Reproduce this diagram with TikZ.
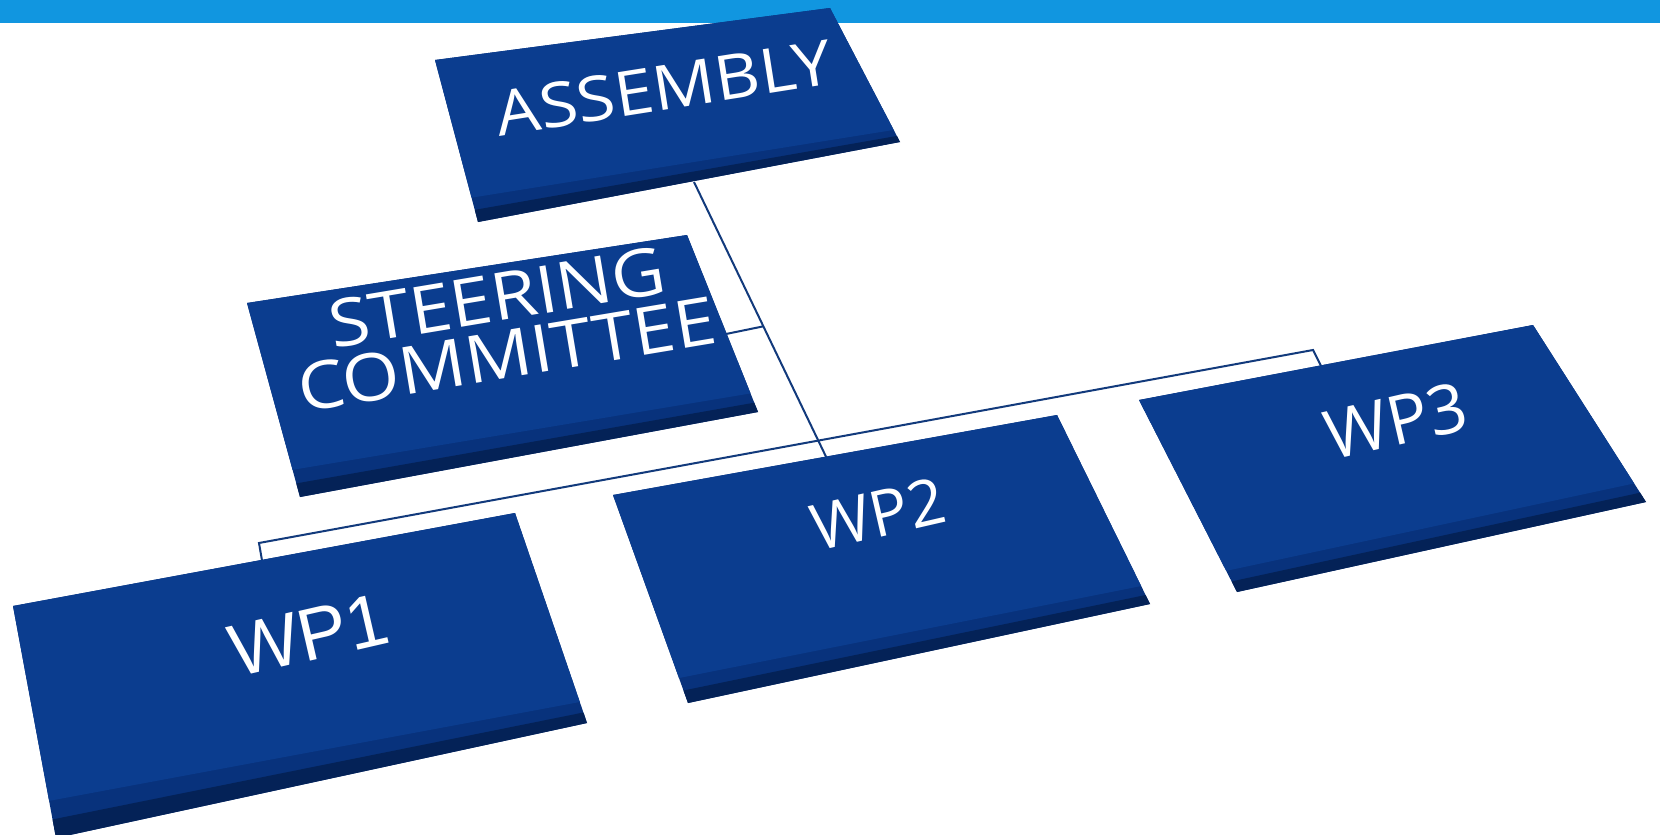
\documentclass[tikz,border=0pt]{standalone}
\usepackage{fontspec}
\usepackage{graphicx}
\setmainfont{Open Sans}
\newfontfamily\arialfont{Liberation Sans}
\usetikzlibrary{calc}

\definecolor{barblue}{HTML}{1196E0}
\definecolor{slabface}{HTML}{0B3D8F}
\definecolor{slabside}{HTML}{08327C}
\definecolor{slabdark}{HTML}{042257}
\definecolor{linkblue}{HTML}{123A7C}

% a box seen in perspective: #1 = name, #2/#3 = part of the left/right edge that is front
\newcommand{\slab}[3]{%
  \fill[slabside] (#1-tl) -- (#1-tr) -- (#1-br) -- (#1-bl) -- cycle;
  \fill[slabface] (#1-tl) -- (#1-tr) -- ($(#1-br)!#3!(#1-tr)$) -- ($(#1-bl)!#2!(#1-tl)$) -- cycle;
  \fill[slabdark] ($(#1-bl)!#2/2!(#1-tl)$) -- ($(#1-br)!#3/2!(#1-tr)$) -- (#1-br) -- (#1-bl) -- cycle;
}
\newcommand{\wide}[1]{\scalebox{1.12}[1]{#1}}

\begin{document}
\begin{tikzpicture}[x=1pt, y=-1pt,
    lbl/.style = {text=white, inner sep=0pt, align=center},
    link/.style = {draw=linkblue, line width=2pt}]
  \fill[white] (0,0) rectangle (1660,835);
  \useasboundingbox (0,0) rectangle (1660,835);
  \fill[barblue] (0,0) rectangle (1660,23);

  % corners of the boxes
  \coordinate (asm-tl) at (435,60);   \coordinate (asm-tr) at (830,8);
  \coordinate (asm-br) at (900,142);  \coordinate (asm-bl) at (478,222);
  \coordinate (stc-tl) at (247,303);  \coordinate (stc-tr) at (687,235);
  \coordinate (stc-br) at (758,412);  \coordinate (stc-bl) at (300,497);
  \coordinate (wp1-tl) at (13,606);   \coordinate (wp1-tr) at (515,513);
  \coordinate (wp1-br) at (587,723);  \coordinate (wp1-bl) at (56,838);
  \coordinate (wp2-tl) at (613,495);  \coordinate (wp2-tr) at (1057,415);
  \coordinate (wp2-br) at (1150,604); \coordinate (wp2-bl) at (688,703);
  \coordinate (wp3-tl) at (1139,400); \coordinate (wp3-tr) at (1533,325);
  \coordinate (wp3-br) at (1646,502); \coordinate (wp3-bl) at (1237,592);

  % connector points
  \coordinate (trunk-top) at (694,182);
  \coordinate (trunk-bot) at (830,465);
  \coordinate (jn-stc) at ($(trunk-top)!0.51!(trunk-bot)$);
  \coordinate (stc-r) at (726,334);
  \coordinate (bus-l) at (259,543);
  \coordinate (bus-r) at (1313,350);
  \coordinate (wp1-in) at (264,572);
  \coordinate (wp3-in) at (1324,372);

  \draw[link] (trunk-top) -- (trunk-bot);
  \draw[link] (stc-r) -- (jn-stc);
  \draw[link] (wp1-in) -- (bus-l) -- (bus-r) -- (wp3-in);

  \slab{asm}{0.15}{0.09}
  \slab{stc}{0.14}{0.105}
  \slab{wp1}{0.16}{0.10}
  \slab{wp2}{0.12}{0.095}
  \slab{wp3}{0.11}{0.105}

  \node[lbl, rotate=9, font=\fontsize{62}{62}\selectfont] (asm) at (664,88) {\wide{ASSEMBLY}};
  \node[lbl, rotate=9.5, font=\fontsize{66}{58}\selectfont] (stc) at (502,326) {\wide{STEERING}\\\wide{COMMITTEE}};
  \node[lbl, rotate=13, font=\arialfont\fontsize{74}{74}\selectfont] (wp1) at (309,635) {WP1};
  \node[lbl, rotate=13, font=\fontsize{64}{64}\selectfont] (wp2) at (878,514) {WP2};
  \node[lbl, rotate=13, font=\fontsize{68}{68}\selectfont] (wp3) at (1396,421) {WP3};
\end{tikzpicture}
\end{document}
